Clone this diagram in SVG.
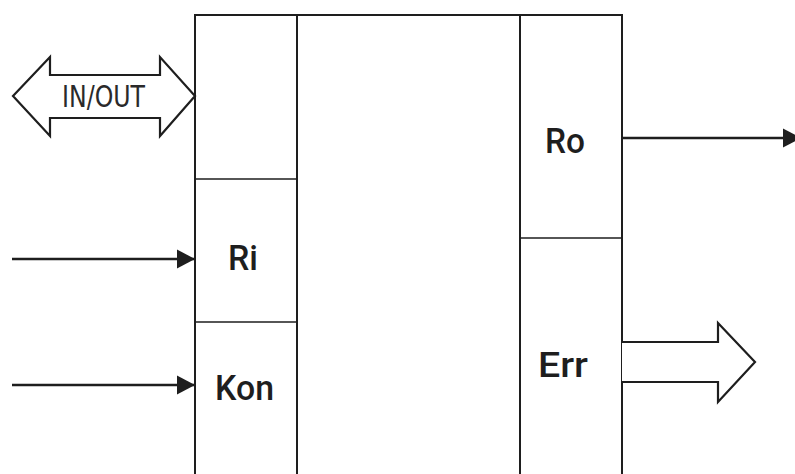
<svg xmlns="http://www.w3.org/2000/svg" width="795" height="474" viewBox="0 0 795 474">
  <style>
    .ln { fill: none; stroke: #1e1e1e; stroke-width: 2; }
    .wire { fill: none; stroke: #1e1e1e; stroke-width: 2.4; }
    .thin { fill: none; stroke: #1e1e1e; stroke-width: 1.5; }
    .hollow { fill: #ffffff; stroke: #1e1e1e; stroke-width: 2.2; stroke-linejoin: miter; }
    .lbl { font-family: Roboto, "DejaVu Sans", sans-serif; font-weight: 500; font-size: 35px; fill: #1e1e1e; }
    .io { font-family: "DejaVu Sans", sans-serif; font-stretch: condensed; font-size: 30px; fill: #2a2a2a; }
  </style>
  <defs>
    <marker id="head" markerWidth="19" markerHeight="20" refX="18" refY="10" orient="auto" markerUnits="userSpaceOnUse" viewBox="0 0 19 20">
      <path d="M0,0.5 L18,10 L0,19.5 Z" fill="#1e1e1e"/>
    </marker>
  </defs>
  <rect width="795" height="474" fill="#ffffff"/>

  <!-- main block with its columns -->
  <g id="block">
    <path class="ln" d="M195,476 V15 H622 V476"/>
    <line class="ln" x1="297" y1="15" x2="297" y2="476"/>
    <line class="ln" x1="520" y1="15" x2="520" y2="476"/>
  </g>

  <g id="ri">
    <line class="thin" x1="195" y1="179" x2="297" y2="179"/>
    <text class="lbl" x="228" y="270" textLength="30" lengthAdjust="spacingAndGlyphs">Ri</text>
  </g>
  <g id="kon">
    <line class="thin" x1="195" y1="322" x2="297" y2="322"/>
    <text class="lbl" x="215" y="400" textLength="59" lengthAdjust="spacingAndGlyphs">Kon</text>
  </g>
  <g id="ro">
    <text class="lbl" x="545" y="153" textLength="40" lengthAdjust="spacingAndGlyphs">Ro</text>
  </g>
  <g id="err">
    <line class="thin" x1="520" y1="238" x2="622" y2="238"/>
    <text class="lbl" x="538" y="377" textLength="50" lengthAdjust="spacingAndGlyphs">Err</text>
  </g>

  <!-- connectors -->
  <g id="connectors">
    <line class="wire" x1="12" y1="259" x2="195" y2="259" marker-end="url(#head)"/>
    <line class="wire" x1="12" y1="385" x2="195" y2="385" marker-end="url(#head)"/>
    <line class="wire" x1="622" y1="138" x2="801" y2="138" marker-end="url(#head)"/>
    <!-- bidirectional hollow bus arrow -->
    <g id="in-out">
      <path class="hollow" d="M13,96 L50,57 V75 H160 V57 L195,96 L160,136 V118 H50 V136 Z"/>
      <text class="io" x="62" y="107" textLength="83" lengthAdjust="spacingAndGlyphs">IN/OUT</text>
    </g>
    <!-- hollow error output arrow -->
    <path class="hollow" d="M622,342 H718 V323 L755,362 L718,402 V382 H622"/>
  </g>
</svg>
